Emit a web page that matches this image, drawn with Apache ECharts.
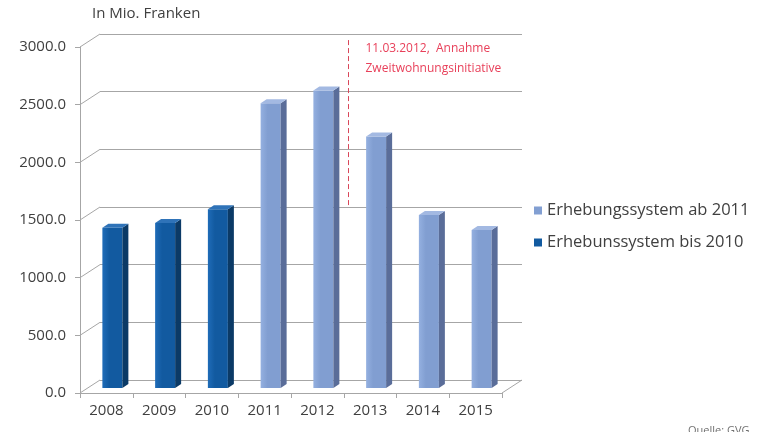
<!DOCTYPE html>
<html>
<head>
<meta charset="utf-8">
<script src="https://cdn.jsdelivr.net/npm/echarts@6/dist/echarts.min.js"></script>
<style>
  html, body { margin: 0; padding: 0; background: #fff; }
  #chart { width: 760px; height: 432px; }
</style>
</head>
<body>
<div id="chart"></div>
<script>
// Years on the category axis
const years = ['2008', '2009', '2010', '2011', '2012', '2013', '2014', '2015'];
// Values in Mio. Franken, old survey system (2008-2010)
const valuesOld = [1390, 1430, 1550];
// Values in Mio. Franken, new survey system (2011-2015)
const valuesNew = [2470, 2580, 2180, 1500, 1370];
// Value axis tick values
const yTicks = [0, 500, 1000, 1500, 2000, 2500, 3000];
// Marker between 2012 and 2013 (value range it spans) and its label
const markerYears = ['2012', '2013'];
const markerSpan = [1620, 3060];
const markerText = ['11.03.2012,  Annahme', 'Zweitwohnungsinitiative'];

const seriesOldName = 'Erhebunssystem bis 2010';
const seriesNewName = 'Erhebungssystem ab 2011';

const FONT = '"Open Sans", Lato, sans-serif';
const TEXT = '#404040';
const GRID = '#a6a6a6';
const DEPTH_X = 20, DEPTH_Y = 13;

const oldData = valuesOld.map((v, i) => [i, v]);
const newData = valuesNew.map((v, i) => [i + valuesOld.length, v]);

// Pseudo-3D column: front face, side face and top cap
function columnRenderer(front, frontLight, side, cap) {
  return function (params, api) {
    const i = api.value(0), v = api.value(1);
    const b = api.coord([i, 0]);
    const t = api.coord([i, v]);
    const w = 20, sx = 6, sy = 4;
    const fl = b[0] - 4, fr = fl + w;
    const yt = t[1] - 5, yb = b[1] - 5;
    return {
      type: 'group',
      children: [
        { type: 'rect', shape: { x: fl, y: yt, width: w, height: yb - yt },
          style: { fill: new echarts.graphic.LinearGradient(0, 0, 1, 0, [
            { offset: 0, color: frontLight }, { offset: 0.35, color: front }, { offset: 1, color: front }]) } },
        { type: 'polygon', shape: { points: [[fr, yt], [fr + sx, yt - sy], [fr + sx, yb - sy], [fr, yb]] },
          style: { fill: side } },
        { type: 'polygon', shape: { points: [[fl, yt], [fl + sx, yt - sy], [fr + sx, yt - sy], [fr, yt]] },
          style: { fill: cap } }
      ]
    };
  };
}

// Side wall diagonals at each tick and the floor's right edge
function frameRenderer(params, api) {
  const v = api.value(1);
  const p = api.coord([0, v]);
  const cs = params.coordSys;
  const children = [{
    type: 'line',
    shape: { x1: cs.x, y1: p[1], x2: cs.x + DEPTH_X, y2: p[1] - DEPTH_Y },
    style: { stroke: GRID, lineWidth: 1 }
  }];
  if (v === 0) {
    children.push({
      type: 'line',
      shape: { x1: cs.x + cs.width, y1: p[1], x2: cs.x + cs.width + DEPTH_X, y2: p[1] - DEPTH_Y },
      style: { stroke: GRID, lineWidth: 1 }
    });
  }
  return { type: 'group', children };
}

// Dashed marker with its two-line label
function markerRenderer(params, api) {
  const a = api.coord([api.value(0), api.value(3)]);
  const b = api.coord([api.value(1), api.value(2)]);
  const x = Math.round((a[0] + b[0]) / 2 + 4) + 0.5;
  return {
    type: 'group',
    children: [
      { type: 'line', shape: { x1: x, y1: a[1], x2: x, y2: b[1] },
        style: { stroke: '#d9475a', lineWidth: 1, lineDash: [5, 3] } },
      { type: 'text', x: x + 17, y: a[1] + 8,
        style: { text: markerText[0], fill: '#e8405a', font: '12px ' + FONT, verticalAlign: 'middle' } },
      { type: 'text', x: x + 17, y: a[1] + 28,
        style: { text: markerText[1], fill: '#e8405a', font: '12px ' + FONT, verticalAlign: 'middle' } }
    ]
  };
}

const chart = echarts.init(document.getElementById('chart'), null, { renderer: 'canvas' });

chart.setOption({
  animation: false,
  backgroundColor: '#ffffff',
  textStyle: { fontFamily: FONT },
  grid: [
    // front plane: axes and columns
    { left: 80, right: 258, top: 47, bottom: 39 },
    // back wall: gridlines
    { left: 80 + DEPTH_X, right: 258 - DEPTH_X, top: 47 - DEPTH_Y, bottom: 39 + DEPTH_Y }
  ],
  xAxis: [
    { type: 'category', gridIndex: 0, data: years,
      axisLine: { lineStyle: { color: GRID } },
      axisTick: { show: true, length: 5, lineStyle: { color: GRID } },
      axisLabel: { color: TEXT, fontSize: 15, fontFamily: FONT, margin: 10 } },
    { type: 'category', gridIndex: 1, data: years, show: false }
  ],
  yAxis: [
    { type: 'value', gridIndex: 0, min: 0, max: 3000, interval: 500,
      axisLine: { show: true, lineStyle: { color: GRID } },
      axisTick: { show: true, length: 5, lineStyle: { color: GRID } },
      splitLine: { show: false },
      axisLabel: { color: TEXT, fontSize: 15, fontFamily: FONT, margin: 14,
        formatter: v => v.toFixed(1) } },
    { type: 'value', gridIndex: 1, min: 0, max: 3000, interval: 500,
      axisLine: { show: false }, axisTick: { show: false }, axisLabel: { show: false },
      splitLine: { show: true, lineStyle: { color: GRID, width: 1 } } }
  ],
  legend: {
    orient: 'vertical', left: 529, top: 197, itemGap: 15,
    icon: 'rect', itemWidth: 8, itemHeight: 8,
    textStyle: { color: TEXT, fontSize: 16.5, fontFamily: FONT },
    data: [seriesNewName, seriesOldName]
  },
  graphic: [
    { type: 'text', left: 92, top: 6,
      style: { text: 'In Mio. Franken', fill: TEXT, font: '15px ' + FONT } },
    { type: 'text', left: 688, top: 425,
      style: { text: 'Quelle: GVG', fill: '#707070', font: '11px ' + FONT } }
  ],
  series: [
    { type: 'custom', name: 'frame', xAxisIndex: 0, yAxisIndex: 0, silent: true,
      renderItem: frameRenderer, data: yTicks.map(v => [0, v]), z: 1 },
    { type: 'custom', name: seriesOldName, xAxisIndex: 0, yAxisIndex: 0,
      itemStyle: { color: '#125aa0' },
      renderItem: columnRenderer('#125aa0', '#1f6cb8', '#0b3a66', '#2f73b8'),
      data: oldData, encode: { x: 0, y: 1 }, z: 3 },
    { type: 'custom', name: seriesNewName, xAxisIndex: 0, yAxisIndex: 0,
      itemStyle: { color: '#829fd2' },
      renderItem: columnRenderer('#819ed1', '#94b0e0', '#5a6d99', '#a3b9e2'),
      data: newData, encode: { x: 0, y: 1 }, z: 3 },
    { type: 'custom', name: 'marker', xAxisIndex: 0, yAxisIndex: 0, silent: true,
      renderItem: markerRenderer,
      data: [[years.indexOf(markerYears[0]), years.indexOf(markerYears[1]), markerSpan[0], markerSpan[1]]],
      encode: { x: [0, 1], y: [2, 3] }, z: 4 }
  ]
});
</script>
</body>
</html>
